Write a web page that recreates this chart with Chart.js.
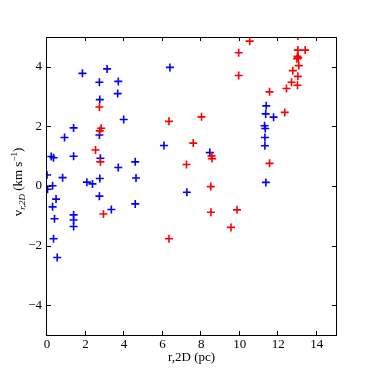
<!DOCTYPE html>
<html>
<head>
    <title>Radial velocity vs projected radius</title>
    <script src="https://cdn.jsdelivr.net/npm/chart.js@4.4.1/dist/chart.umd.min.js"></script>
    <style>
        body { margin: 0; background: #fff; }
        #wrap { width: 374px; height: 374px; }
    </style>
</head>
<body>
    <div id="wrap">
        <canvas id="velChart" width="374" height="374"></canvas>
    </div>
    <script>
        // data: r (pc) and v (km/s)
        const blueR = [6.38, 3.12, 1.84, 2.72, 3.70, 3.67, 2.74, 3.98, 1.38, 0.91, 2.72, 6.07, 0.22, 0.34, 1.38, 2.77,
                       3.70, 4.58, 0.00, 0.81, 2.07, 2.36, 2.74, 4.62, 0.29, 0.03, 0.47, 0.29, 0.39, 1.38, 1.38, 1.38,
                       2.72, 3.34, 4.58, 0.34, 0.53, 7.26, 11.38, 11.35, 11.76, 11.29, 11.33, 11.31, 11.31, 8.45, 11.36];
        const blueV = [3.98, 3.93, 3.78, 3.48, 3.51, 3.10, 2.90, 2.23, 1.95, 1.63, 1.71, 1.36, 0.99, 0.95, 1.00, 0.93,
                       0.62, 0.81, 0.37, 0.28, 0.13, 0.07, 0.25, 0.27, 0.01, -0.11, -0.44, -0.70, -1.10, -0.97, -1.14, -1.36,
                       -0.34, -0.79, -0.60, -1.77, -2.40, -0.21, 2.69, 2.42, 2.31, 2.02, 1.93, 1.63, 1.35, 1.12, 0.12];
        const redR = [2.72, 2.81, 2.74, 6.33, 2.52, 2.77, 7.24, 2.93, 6.33, 10.52, 13.02, 9.95, 13.02, 13.40, 13.00, 12.97,
                      13.04, 13.07, 12.76, 13.02, 9.95, 12.69, 12.43, 13.00, 11.55, 12.34, 8.02, 7.59, 8.54, 8.57, 11.55,
                      8.50, 8.51, 9.86, 9.55];
        const redV = [2.65, 1.94, 1.85, 2.17, 1.21, 0.81, 0.72, -0.94, -1.77, 4.86, 5.03, 4.47, 4.56, 4.56, 4.35, 4.27,
                      4.30, 4.04, 3.87, 3.68, 3.71, 3.48, 3.27, 3.38, 3.16, 2.47, 2.32, 1.44, 1.01, 0.92, 0.76,
                      -0.02, -0.88, -0.80, -1.39];
        const xTicks = [0, 2, 4, 6, 8, 10, 12, 14];
        const yTicks = [-4, -2, 0, 2, 4];

        const serif = "'Liberation Serif', 'DejaVu Serif', serif";

        function toPoints(xs, ys) {
            return xs.map((x, i) => ({ x: x, y: ys[i] }));
        }

        // box round the plot with inward ticks on all four sides
        const framePlugin = {
            id: 'frame',
            afterDatasetsDraw(chart) {
                const ctx = chart.ctx;
                const a = chart.chartArea;
                const xs = chart.scales.x, ys = chart.scales.y;
                const len = 4;
                ctx.save();
                ctx.strokeStyle = '#000';
                ctx.lineWidth = 1;
                ctx.strokeRect(Math.round(a.left) - 0.5, Math.round(a.top) + 0.5,
                               Math.round(a.right - a.left) + 1, Math.round(a.bottom - a.top));
                ctx.beginPath();
                xTicks.forEach(v => {
                    const px = Math.round(xs.getPixelForValue(v)) - 0.5;
                    ctx.moveTo(px, a.bottom); ctx.lineTo(px, a.bottom - len);
                    ctx.moveTo(px, a.top); ctx.lineTo(px, a.top + len);
                });
                yTicks.forEach(v => {
                    const py = Math.round(ys.getPixelForValue(v)) + 0.5;
                    ctx.moveTo(a.left, py); ctx.lineTo(a.left + len, py);
                    ctx.moveTo(a.right, py); ctx.lineTo(a.right - len, py);
                });
                ctx.stroke();
                ctx.restore();
            },
            afterDraw(chart) {
                // y axis title with sub- and superscript
                const ctx = chart.ctx;
                const parts = [
                    { t: 'v', f: '13px ' + serif, dy: 0 },
                    { t: 'r,2D', f: 'italic 9px ' + serif, dy: 3 },
                    { t: ' (km s', f: '13px ' + serif, dy: 0 },
                    { t: '\u22121', f: '9px ' + serif, dy: -5 },
                    { t: ')', f: '13px ' + serif, dy: 0 }
                ];
                ctx.save();
                let total = 0;
                parts.forEach(p => { ctx.font = p.f; p.w = ctx.measureText(p.t).width; total += p.w; });
                ctx.translate(22, 182);
                ctx.rotate(-Math.PI / 2);
                ctx.fillStyle = '#000';
                ctx.textBaseline = 'alphabetic';
                let x = -total / 2;
                parts.forEach(p => {
                    ctx.font = p.f;
                    ctx.fillText(p.t, x, p.dy);
                    x += p.w;
                });
                ctx.restore();
            }
        };

        const ctx = document.getElementById('velChart').getContext('2d');
        const velChart = new Chart(ctx, {
            type: 'scatter',
            data: {
                datasets: [{
                    data: toPoints(redR, redV),
                    pointStyle: 'cross',
                    pointRadius: 4,
                    pointBorderWidth: 1.6,
                    borderColor: '#ff0000',
                    backgroundColor: '#ff0000'
                }, {
                    data: toPoints(blueR, blueV),
                    pointStyle: 'cross',
                    pointRadius: 4,
                    pointBorderWidth: 1.6,
                    borderColor: '#0000ff',
                    backgroundColor: '#0000ff'
                }]
            },
            options: {
                responsive: false,
                animation: false,
                layout: { padding: { top: 37, right: 38, left: 0, bottom: 0 } },
                plugins: {
                    legend: { display: false },
                    tooltip: { enabled: false }
                },
                scales: {
                    x: {
                        type: 'linear',
                        min: 0,
                        max: 15,
                        grid: { display: false, drawTicks: false },
                        border: { display: false },
                        afterBuildTicks: s => { s.ticks = xTicks.map(v => ({ value: v })); },
                        afterFit: s => { s.height = 39; },
                        ticks: {
                            color: '#000',
                            padding: 2,
                            font: { family: serif, size: 13 }
                        },
                        title: {
                            display: true,
                            text: 'r,2D (pc)',
                            color: '#000',
                            padding: { top: 0, bottom: 9 },
                            font: { family: serif, size: 13 }
                        }
                    },
                    y: {
                        type: 'linear',
                        min: -5,
                        max: 5,
                        grid: { display: false, drawTicks: false },
                        border: { display: false },
                        afterBuildTicks: s => { s.ticks = yTicks.map(v => ({ value: v })); },
                        afterFit: s => { s.width = 47; },
                        ticks: {
                            color: '#000',
                            padding: 5,
                            font: { family: serif, size: 13 },
                            callback: v => (v < 0 ? '\u2212' + Math.abs(v) : String(v))
                        }
                    }
                }
            },
            plugins: [framePlugin]
        });
    </script>
</body>
</html>
